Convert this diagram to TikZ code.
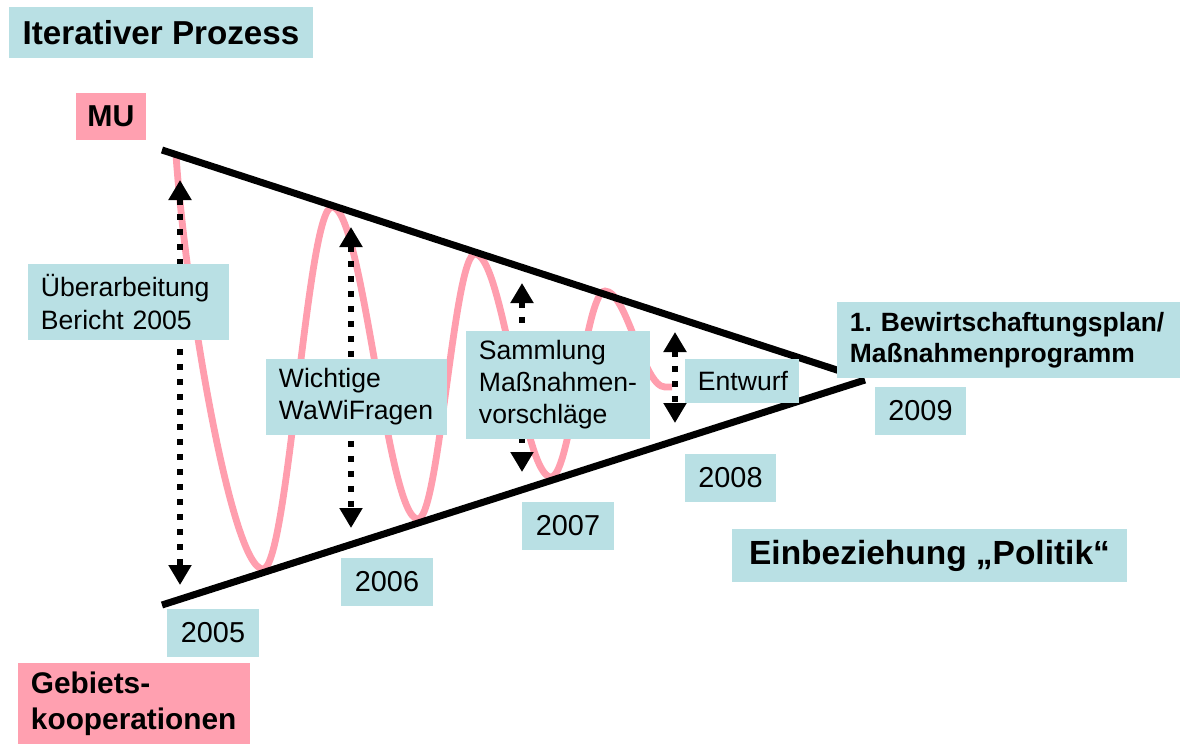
\documentclass[tikz,border=0pt]{standalone}
\usepackage{fontspec}
\setmainfont{Liberation Sans}
\usetikzlibrary{arrows.meta,calc}
\tikzset{>=latex}
\definecolor{boxblue}{RGB}{185,224,228}
\definecolor{boxpink}{RGB}{255,160,176}
\definecolor{wavepink}{RGB}{255,158,174}

\tikzset{
  labelbox/.style={fill=boxblue, inner ysep=0pt, inner xsep=0.05cm, text width=#1-0.1cm,
    align=left, execute at begin node={\leftskip=0.275cm},
    font=\fontsize{18.9}{22.8}\selectfont},
  yearbox/.style={fill=boxblue, inner sep=0pt, minimum width=2.275cm, minimum height=1.2cm,
    font=\fontsize{20.5}{24}\selectfont},
  dotarrow/.style={line width=0.15cm, dash pattern=on 0.15cm off 0.225cm,
    {Triangle[width=0.55cm,length=0.5cm]}-{Triangle[width=0.55cm,length=0.5cm]}}
}

\begin{document}
\begin{tikzpicture}[x=0.025cm, y=-0.025cm]

    \useasboundingbox (0,0) rectangle (1180,744);

    % ends of the funnel
    \coordinate (top1) at (162,150);
    \coordinate (top2) at (840,371);
    \coordinate (bot1) at (162,605);
    \coordinate (bot2) at (865,380);

    % the wave
    \draw[wavepink, line width=0.17cm] (176,155)
        .. controls (186,300) and (232,569) .. (263,569)
        .. controls (288,569) and (307,207) .. (332,207)
        .. controls (363,207) and (387,519) .. (418,519)
        .. controls (439,519) and (454,254) .. (475,254)
        .. controls (503,254) and (523,477) .. (551,477)
        .. controls (571,477) and (585,291) .. (605,291)
        .. controls (627,291) and (643,387) .. (665,387) -- (672,387);

    % dotted arrows
    \coordinate (a1) at (180,180);  \coordinate (b1) at (180,585);
    \coordinate (a2) at (351,227);  \coordinate (b2) at (351,528);
    \coordinate (a3) at (522,283);  \coordinate (b3) at (522,472);
    \coordinate (a4) at (675,332);  \coordinate (b4) at (675,423);
    \foreach \i in {1,...,4}
        \draw[dotarrow] (a\i) -- (b\i);

    \draw[line width=0.175cm] (top1) -- (top2);
    \draw[line width=0.175cm] (bot1) -- (bot2);

    % boxes
    \node[fill=boxblue, minimum width=7.6cm, minimum height=1.275cm, inner sep=0pt,
        font=\fontsize{23.6}{28}\selectfont\bfseries] (iter) at (161,32.5) {Iterativer Prozess};
    \node[fill=boxpink, minimum width=1.75cm, minimum height=1.175cm, inner sep=0pt,
        font=\fontsize{21.5}{26}\selectfont\bfseries] (mu) at (111,116.5) {MU};
    \node[labelbox=5.8cm, fill=boxpink, minimum height=2.025cm,
        font=\fontsize{21.2}{25.6}\selectfont\bfseries] (gebiet) at (134,703.5) {Gebiets-\\kooperationen};

    \node[labelbox=5.025cm, minimum height=1.9cm] (ueber) at (128.5,302) {Überarbeitung\\Bericht 2005};
    \node[labelbox=4.525cm, minimum height=1.9cm] (wawi) at (356.5,397) {Wichtige\\WaWiFragen};
    \node[labelbox=4.6cm, minimum height=2.7cm] (samml) at (558,385) {Sammlung\\Maßnahmen-\\vorschläge};
    \node[labelbox=2.85cm, minimum height=1.1cm] (entw) at (742,381) {Entwurf};
    \node[labelbox=8.575cm, minimum height=1.9cm,
        font=\fontsize{18.8}{22}\selectfont\bfseries] (plan) at (1008.5,340) {1.\ Bewirtschaftungsplan/\\Maßnahmenprogramm};
    \node[fill=boxblue, minimum width=9.875cm, minimum height=1.325cm, inner sep=0pt,
        font=\fontsize{23.8}{28}\selectfont\bfseries] (polit) at (929.5,555.5) {Einbeziehung „Politik“};

    % years
    \node[yearbox] (y2005) at (213,633) {2005};
    \node[yearbox] (y2006) at (387,582) {2006};
    \node[yearbox] (y2007) at (568,525.5) {2007};
    \node[yearbox] (y2008) at (730.5,478) {2008};
    \node[yearbox] (y2009) at (920.5,411) {2009};

\end{tikzpicture}
\end{document}
